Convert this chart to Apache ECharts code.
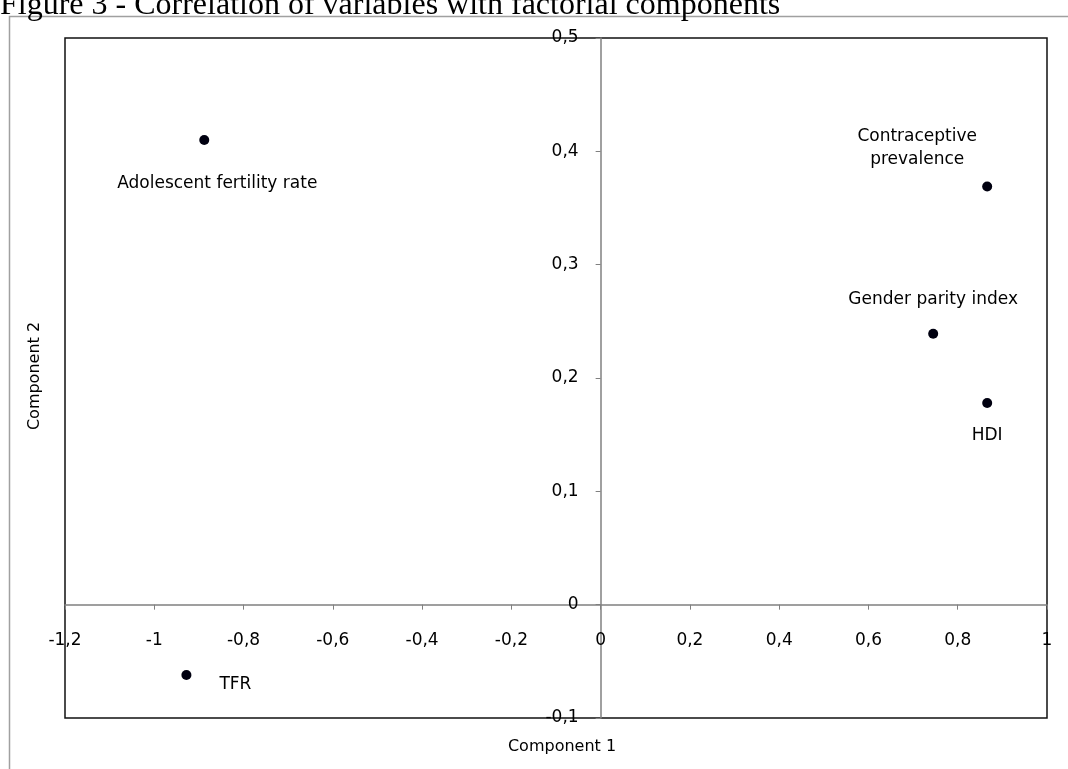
<!DOCTYPE html>
<html>
<head>
<meta charset="utf-8">
<script src="https://cdn.jsdelivr.net/npm/echarts@6/dist/echarts.min.js"></script>
<style>
html,body{margin:0;padding:0;background:#fff;}
#chart{width:1068px;height:769px;}
</style>
</head>
<body>
<div id="chart"></div>
<script>
// ---- data ----
var variableNames = ['Adolescent fertility rate', 'TFR', 'Contraceptive\nprevalence', 'Gender parity index', 'HDI'];
var component1 = [-0.888, -0.928, 0.866, 0.745, 0.866];
var component2 = [0.410, -0.062, 0.369, 0.239, 0.178];
var xTicks = [-1.2, -1, -0.8, -0.6, -0.4, -0.2, 0, 0.2, 0.4, 0.6, 0.8, 1];
var yTicks = [-0.1, 0, 0.1, 0.2, 0.3, 0.4, 0.5];
// label placement (pixels from each point)
var labelOffsets = [[13, 44], [49, 10], [-70, -38], [0, -34], [0, 33]];

var titleText = 'Figure 3 - Correlation of variables with factorial components';
var xTitle = 'Component 1';
var yTitle = 'Component 2';

function fmt(v) {
  var r = Math.round(v * 10) / 10;
  return String(r).replace('.', ',');
}

var labelFont = '"DejaVu Sans", "Liberation Sans", Arial, sans-serif';

var points = variableNames.map(function (n, i) {
  return {
    name: n,
    value: [component1[i], component2[i]],
    label: {
      show: true,
      position: 'inside',
      offset: labelOffsets[i],
      formatter: n,
      color: '#000',
      opacity: 1,
      textBorderWidth: 0,
      textBorderColor: 'transparent',
      textShadowBlur: 0,
      fontFamily: labelFont,
      fontSize: 17,
      lineHeight: 23,
      align: 'center',
      verticalAlign: 'middle'
    }
  };
});

var GRID = {left: 65, top: 38, right: 21, bottom: 51};

var chart = echarts.init(document.getElementById('chart'), null, {renderer: 'canvas'});

function buildOption(xOffset, yOffset) {
  return {
    animation: false,
    backgroundColor: '#fff',
    grid: {
      left: GRID.left, top: GRID.top, right: GRID.right, bottom: GRID.bottom,
      show: true, borderColor: '#111', borderWidth: 1.5,
      backgroundColor: 'transparent'
    },
    xAxis: {
      type: 'value', position: 'bottom', offset: xOffset,
      min: xTicks[0], max: xTicks[xTicks.length - 1], interval: 0.2,
      axisLine: {show: true, onZero: false, lineStyle: {color: '#808080', width: 1.5}},
      axisTick: {show: true, length: 5, lineStyle: {color: '#808080'}},
      axisLabel: {
        color: '#000', fontSize: 17, fontFamily: labelFont, margin: 27,
        formatter: fmt, showMinLabel: true, showMaxLabel: true, hideOverlap: false
      },
      splitLine: {show: false}
    },
    yAxis: {
      type: 'value', position: 'left', offset: yOffset,
      min: yTicks[0], max: yTicks[yTicks.length - 1], interval: 0.1,
      axisLine: {show: true, onZero: false, lineStyle: {color: '#808080', width: 1.5}},
      axisTick: {show: true, length: 5, lineStyle: {color: '#808080'}},
      axisLabel: {
        color: '#000', fontSize: 17, fontFamily: labelFont, margin: 22,
        formatter: fmt, showMinLabel: true, showMaxLabel: true, hideOverlap: false
      },
      splitLine: {show: false}
    },
    series: [{
      type: 'scatter',
      symbol: 'circle',
      symbolSize: 10,
      itemStyle: {color: '#000010', opacity: 1},
      data: points,
      emphasis: {disabled: true}
    }],
    graphic: [
      {
        type: 'rect', z: -10, silent: true,
        shape: {x: 9.5, y: 16.5, width: 1100, height: 800},
        style: {fill: 'none', stroke: '#a0a0a0', lineWidth: 1.5}
      },
      {
        type: 'text', x: 0, y: 6, silent: true,
        style: {
          text: titleText, fill: '#000',
          font: '32px "Liberation Serif", "Times New Roman", serif',
          textAlign: 'left', textVerticalAlign: 'middle'
        }
      },
      {
        type: 'text', x: 562, y: 747, silent: true,
        style: {
          text: xTitle, fill: '#000',
          font: '16px "DejaVu Sans", Arial, sans-serif',
          textAlign: 'center', textVerticalAlign: 'middle'
        }
      },
      {
        type: 'text', x: 35, y: 376, rotation: Math.PI / 2, silent: true,
        style: {
          text: yTitle, fill: '#000',
          font: '16px "DejaVu Sans", Arial, sans-serif',
          textAlign: 'center', textVerticalAlign: 'middle'
        }
      }
    ]
  };
}

// first pass: find where zero falls, then move both axes onto the zero lines
chart.setOption(buildOption(0, 0));
var origin = chart.convertToPixel({gridIndex: 0}, [0, 0]);
var H = chart.getHeight();
var xOff = -((H - GRID.bottom) - origin[1]);
var yOff = -(origin[0] - GRID.left);
chart.setOption(buildOption(xOff, yOff), true);
</script>
</body>
</html>
